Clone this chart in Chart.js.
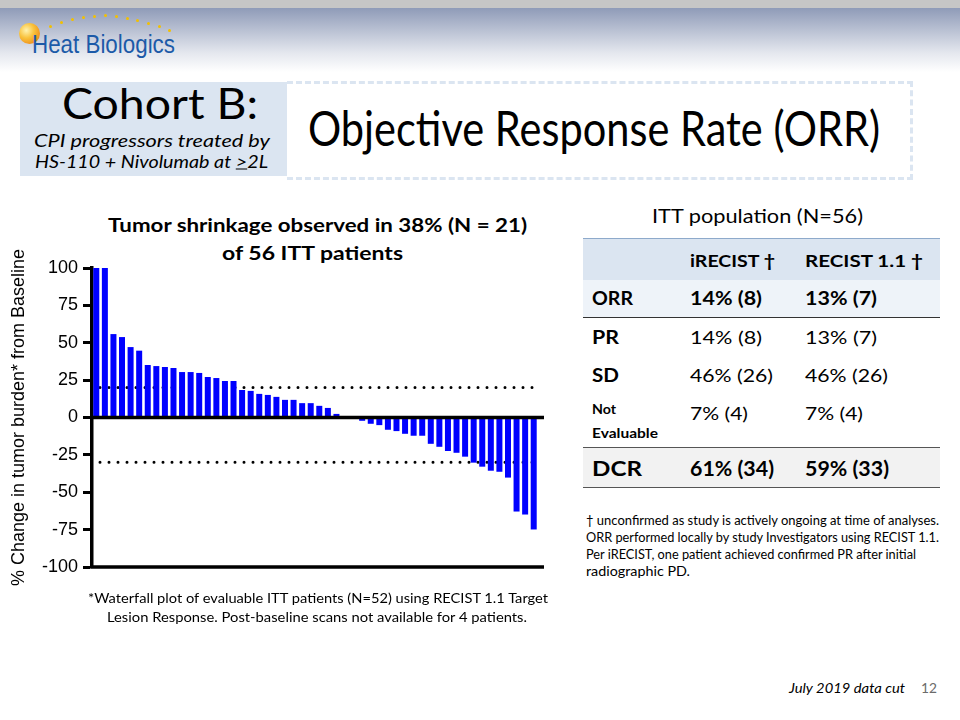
<!DOCTYPE html>
<html><head><meta charset="utf-8">
<script src="https://cdn.jsdelivr.net/npm/chart.js@4.4.1/dist/chart.umd.min.js"></script>
<style>
html,body{margin:0;padding:0;background:#fff;}
body{width:960px;height:720px;position:relative;overflow:hidden;font-family:Lato,'Open Sans',sans-serif;color:#000;}
#topbar{position:absolute;left:0;top:0;width:960px;height:8px;background:#c6c6c6;}
#band{position:absolute;left:0;top:8px;width:960px;height:64px;background:linear-gradient(#8f9bb8,#e4e7ee 70%,#fff);}
.t{position:absolute;white-space:nowrap;line-height:1;transform-origin:0 50%;}
.b{font-weight:bold;}
.i{font-style:italic;}
.box{position:absolute;}
#sun{position:absolute;left:19px;top:23px;width:21px;height:21px;border-radius:50%;background:radial-gradient(circle at 35% 35%,#fff3b0,#f9c23c 40%,#ec8514 85%);}
.dot{position:absolute;width:3px;height:3px;border-radius:50%;background:#f2c000;}
#cv{position:absolute;left:0;top:240px;}
</style></head>
<body>
<div id="topbar"></div><div id="band"></div>
<div id="sun"></div>
<div id="dots"></div>
<div class="t" data-x="32" data-y="44" data-w="143" style="font:25px 'Liberation Sans',Arial,sans-serif;color:#1c5aa8;">Heat Biologics</div>

<div class="box" style="left:20px;top:82px;width:267px;height:94px;background:#dbe5f1;"></div>
<div class="box" style="left:287px;top:81px;width:623px;height:93px;border:3px dashed #dbe5f1;border-left:none;"></div>
<div class="t" data-x="62" data-y="103" data-w="196" style="font-size:42px;">Cohort B:</div>
<div class="t i" data-x="34" data-y="140" data-w="236" style="font-size:17px;">CPI progressors treated by</div>
<div class="t i" data-x="35" data-y="161" data-w="233" style="font-size:17px;">HS-110 + Nivolumab at <u>&gt;</u>2L</div>
<div class="t" data-x="308" data-y="128" data-w="572" style="font-size:48px;">Objective Response Rate (ORR)</div>

<div class="t b" data-x="108" data-y="225" data-w="419" style="font-size:18px;">Tumor shrinkage observed in 38% (N = 21)</div>
<div class="t b" data-x="222" data-y="253" data-w="181" style="font-size:18px;">of 56 ITT patients</div>

<canvas id="cv" width="560" height="360"></canvas>

<div class="t" data-x="88" data-y="598" data-w="460" style="font-size:14px;">*Waterfall plot of evaluable ITT patients (N=52) using RECIST 1.1 Target</div>
<div class="t" data-x="107" data-y="617" data-w="420" style="font-size:14px;">Lesion Response. Post-baseline scans not available for 4 patients.</div>

<div class="t" data-x="652" data-y="215" data-w="211" style="font-size:20px;">ITT population (N=56)</div>
<div class="box" style="left:583px;top:238px;width:357px;height:41px;background:#dbe5f1;border-top:1.5px solid #8eaacb;"></div>
<div class="box" style="left:583px;top:280px;width:357px;height:37px;background:#eef3f9;border-bottom:1.5px solid #333;"></div>
<div class="box" style="left:583px;top:447px;width:357px;height:39px;background:#f2f2f2;border-top:1.5px solid #555;border-bottom:1.5px solid #555;"></div>

<div class="t b" data-x="690" data-y="260" data-w="85" style="font-size:17px;">iRECIST †</div>
<div class="t b" data-x="805" data-y="260" data-w="118" style="font-size:17px;">RECIST 1.1 †</div>
<div class="t b" data-x="592" data-y="298" data-w="41" style="font-size:18px;">ORR</div>
<div class="t b" data-x="690" data-y="298" data-w="72" style="font-size:18px;">14% (8)</div>
<div class="t b" data-x="805" data-y="298" data-w="72" style="font-size:18px;">13% (7)</div>
<div class="t b" data-x="592" data-y="337" data-w="27" style="font-size:18px;">PR</div>
<div class="t" data-x="690" data-y="337" data-w="72" style="font-size:18px;">14% (8)</div>
<div class="t" data-x="805" data-y="337" data-w="72" style="font-size:18px;">13% (7)</div>
<div class="t b" data-x="592" data-y="375" data-w="27" style="font-size:18px;">SD</div>
<div class="t" data-x="690" data-y="375" data-w="83" style="font-size:18px;">46% (26)</div>
<div class="t" data-x="805" data-y="375" data-w="83" style="font-size:18px;">46% (26)</div>
<div class="t b" data-x="592" data-y="409" data-w="24" style="font-size:14px;">Not</div>
<div class="t b" data-x="592" data-y="433" data-w="66" style="font-size:14px;">Evaluable</div>
<div class="t" data-x="690" data-y="413" data-w="58" style="font-size:18px;">7% (4)</div>
<div class="t" data-x="805" data-y="413" data-w="58" style="font-size:18px;">7% (4)</div>
<div class="t b" data-x="592" data-y="467" data-w="50" style="font-size:21px;">DCR</div>
<div class="t b" data-x="690" data-y="467" data-w="84" style="font-size:21px;">61% (34)</div>
<div class="t b" data-x="805" data-y="467" data-w="84" style="font-size:21px;">59% (33)</div>

<div class="t" data-x="586" data-y="521" data-w="353" style="font-size:12.5px;">† unconfirmed as study is actively ongoing at time of analyses.</div>
<div class="t" data-x="586" data-y="538" data-w="353" style="font-size:12.5px;">ORR performed locally by study Investigators using RECIST 1.1.</div>
<div class="t" data-x="586" data-y="555" data-w="330" style="font-size:12.5px;">Per iRECIST, one patient achieved confirmed PR after initial</div>
<div class="t" data-x="586" data-y="572" data-w="104" style="font-size:12.5px;">radiographic PD.</div>

<div class="t i" data-x="789" data-y="688" data-w="116" style="font-size:14px;">July 2019 data cut</div>
<div class="t" data-x="921" data-y="688" data-w="16" style="font-size:14px;color:#6b6b6b;">12</div>

<script>
// ---- data ----
const pctChange = [100, 100, 55.8, 53.8, 47.1, 44.7, 35.1, 34.4, 33.8, 33.1, 30.4, 30.4, 29.8, 27.1, 26.4,
  24.4, 24.4, 18.4, 17.8, 15.8, 15.1, 13.8, 11.8, 11.8, 9.6, 9.6, 7.8, 6.4, 2.4, 0, 0,
  -2.2, -4.2, -5.1, -8.2, -9.1, -10.9, -12.2, -12.2, -17.6, -19.6, -22.4, -23.6, -26.2, -30.2,
  -32.9, -35.6, -36.3, -40.2, -62.9, -64.9, -74.9];
const patientLabels = pctChange.map((v, i) => 'Pt ' + (i + 1));
const yTicks = [-100, -75, -50, -25, 0, 25, 50, 75, 100];
const thresholds = [20, -30];
const yTitle = '% Change in tumor burden* from Baseline';

// ---- logo dots (decoration) ----
const dotPos = [[50,26],[61,22],[72,19],[83,17],[94,16],[105,15],[116,16],[127,18],[137,20],[148,23],[159,26],[169,30]];
const dd = document.getElementById('dots');
dotPos.forEach(p => { const d = document.createElement('div'); d.className = 'dot'; d.style.left = (p[0]-1.5)+'px'; d.style.top = (p[1]-1.5)+'px'; dd.appendChild(d); });

// ---- text fitting ----
function fitText() {
  document.querySelectorAll('.t').forEach(el => {
    el.style.left = el.dataset.x + 'px';
    el.style.top = el.dataset.y + 'px';
    el.style.transform = 'translateY(-50%)';
    const w = el.getBoundingClientRect().width;
    const s = (+el.dataset.w) / w;
    el.style.transform = 'translateY(-50%) scaleX(' + s.toFixed(4) + ')';
  });
}
if (document.fonts && document.fonts.ready) { document.fonts.ready.then(fitText); }
fitText();

// ---- chart ----
const refLines = {
  id: 'refLines',
  beforeDatasetsDraw(chart) {
    const {ctx, chartArea, scales} = chart;
    ctx.save();
    ctx.strokeStyle = '#000';
    ctx.lineWidth = 3;
    ctx.lineCap = 'round';
    ctx.setLineDash([0, 9]);
    thresholds.forEach(v => {
      const y = scales.y.getPixelForValue(v);
      ctx.beginPath();
      ctx.moveTo(chartArea.left + 8, y);
      ctx.lineTo(chartArea.right + 2, y);
      ctx.stroke();
    });
    ctx.restore();
  }
};
const axisLines = {
  id: 'axisLines',
  afterDatasetsDraw(chart) {
    const {ctx, chartArea, scales} = chart;
    ctx.save();
    ctx.strokeStyle = '#000';
    ctx.lineWidth = 3.5;
    [0, -100].forEach(v => {
      const y = scales.y.getPixelForValue(v);
      ctx.beginPath();
      ctx.moveTo(chartArea.left - 1.75, y);
      ctx.lineTo(chartArea.right + 6, y);
      ctx.stroke();
    });
    ctx.restore();
  }
};

new Chart(document.getElementById('cv'), {
  type: 'bar',
  data: {
    labels: patientLabels,
    datasets: [{ data: pctChange, backgroundColor: '#0000ff', borderWidth: 0, barPercentage: 0.7, categoryPercentage: 1 }]
  },
  options: {
    responsive: false,
    animation: false,
    layout: { padding: { left: 0, top: 28, right: 22, bottom: 33 } },
    plugins: { legend: { display: false }, tooltip: { enabled: false } },
    scales: {
      x: { display: false },
      y: {
        min: -100, max: 100,
        afterFit(s) { s.width = 92; },
        afterBuildTicks(s) { s.ticks = yTicks.map(v => ({ value: v })); },
        ticks: { color: '#000', font: { family: "'Liberation Sans', Arial, sans-serif", size: 18 }, padding: 5 },
        grid: { drawOnChartArea: false, drawTicks: true, tickLength: 9, tickWidth: 3, tickColor: '#000' },
        border: { display: true, color: '#000', width: 3.5 },
        title: { display: true, text: yTitle, color: '#000', font: { family: "'Liberation Sans', Arial, sans-serif", size: 18 }, padding: { top: 8, bottom: 0 } }
      }
    }
  },
  plugins: [refLines, axisLines]
});
</script>
</body></html>
